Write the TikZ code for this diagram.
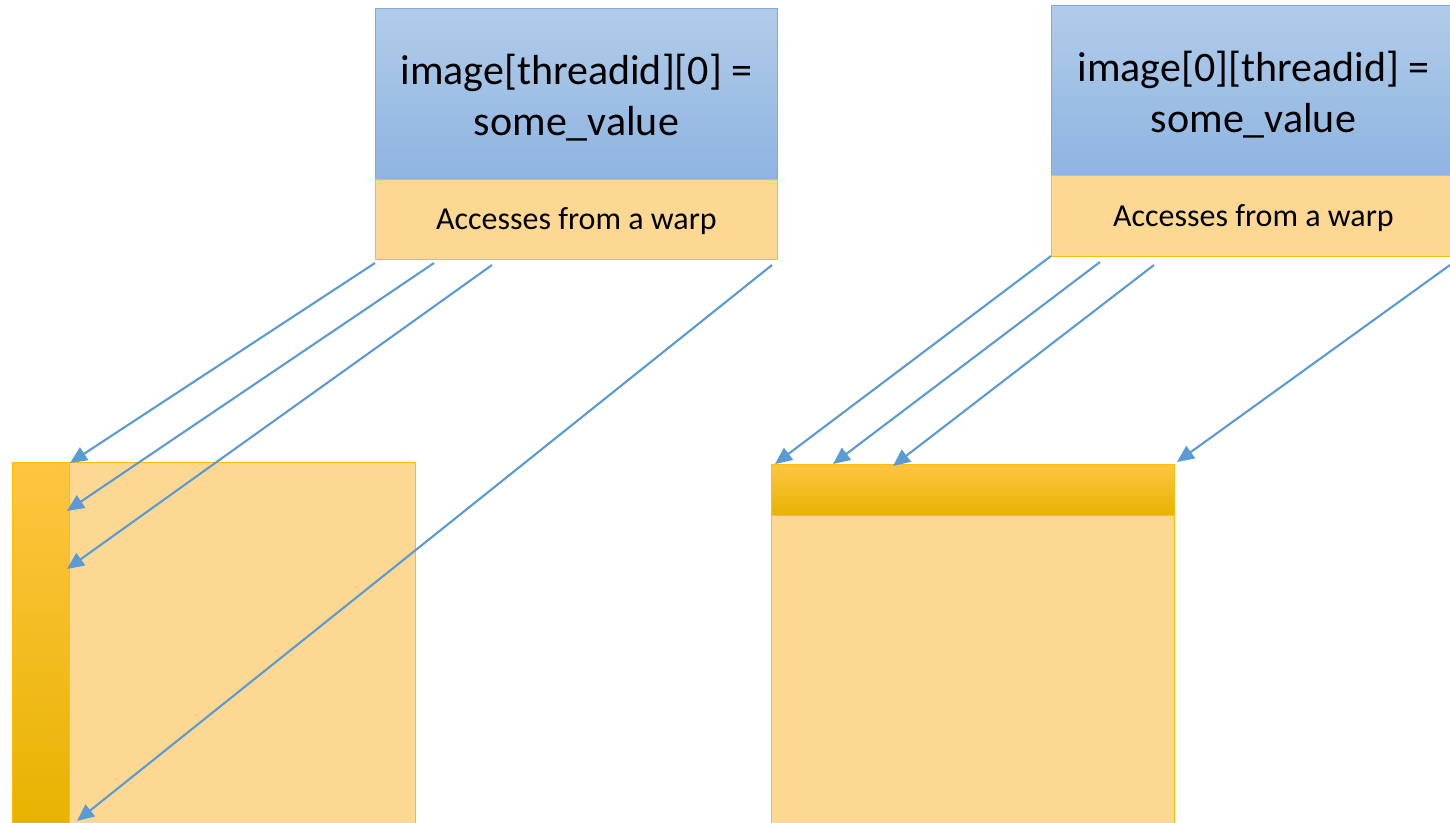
\documentclass[tikz,border=0pt]{standalone}
\usepackage{fontspec}
\setmainfont{Carlito}
\usetikzlibrary{arrows.meta}
\definecolor{arrowblue}{HTML}{5B9BD5}
\definecolor{bluetop}{HTML}{B1CCE9}
\definecolor{bluebot}{HTML}{8EB4E1}
\definecolor{boxedge}{HTML}{7FAADB}
\definecolor{lightorange}{HTML}{FDD892}
\definecolor{goldedge}{HTML}{FFC000}
\definecolor{goldtop}{HTML}{FFC542}
\definecolor{goldmid}{HTML}{FFC000}
\definecolor{goldbot}{HTML}{E8B300}
\tikzset{
  codebox/.style={draw=boxedge, line width=0.8pt, top color=bluetop, bottom color=bluebot,
    minimum width=402pt, minimum height=171pt, inner sep=0pt, align=center,
    font=\fontsize{42}{51}\selectfont, anchor=north west, text depth=0pt},
  codetext/.style={align=center, font=\fontsize{42}{51}\selectfont, inner sep=0pt},
  warpbox/.style={draw=goldedge, line width=0.8pt, fill=lightorange,
    minimum width=402pt, minimum height=80pt, inner sep=0pt, anchor=north west},
  warptext/.style={font=\fontsize{32}{38}\selectfont, inner sep=0pt},
  memory/.style={draw=goldedge, line width=0.8pt, fill=lightorange,
    inner sep=0pt, anchor=north west},
  hotstrip/.style={draw=goldedge, line width=0.8pt, top color=goldtop, middle color=goldmid,
    bottom color=goldbot, inner sep=0pt, anchor=north west},
  access/.style={draw=arrowblue, line width=2.1pt, -{Triangle[length=17pt,width=15pt]}},
}
\begin{document}
\begin{tikzpicture}[x=1pt, y=-1pt]
  \useasboundingbox (0,0) rectangle (1450,822);
  \clip (0,0) rectangle (1450,822);

  % column-wise access: image[threadid][0]
  \node[codebox] (codeL) at (375,8) {};
  \node[codetext] (codeLtext) at ([yshift=-4pt]codeL.center) {image[threadid][0] =\\some\_value};
  \node[warpbox] (warpL) at (375,179) {};
  \node[warptext] (warpLtext) at ([yshift=-2pt]warpL.center) {Accesses from a warp};
  \node[memory, minimum width=403pt, minimum height=362pt] (memL) at (12,462) {};
  \node[hotstrip, minimum width=57pt, minimum height=362pt] (colL) at (12,462) {};

  \coordinate (sL1) at (375,263);
  \coordinate (sL2) at (434,263);
  \coordinate (sL3) at (492,265);
  \coordinate (sL4) at (772,265);
  \coordinate (eL1) at (70,463);
  \coordinate (eL2) at (67,511);
  \coordinate (eL3) at (67,569);
  \coordinate (eL4) at (77,821);
  \draw[access] (sL1) -- (eL1);
  \draw[access] (sL2) -- (eL2);
  \draw[access] (sL3) -- (eL3);
  \draw[access] (sL4) -- (eL4);

  % row-wise access: image[0][threadid]
  \node[codebox, minimum width=404pt, minimum height=170pt] (codeR) at (1051,5) {};
  \node[codetext] (codeRtext) at ([yshift=-4pt]codeR.center) {image[0][threadid] =\\some\_value};
  \node[warpbox, minimum width=404pt, minimum height=81pt] (warpR) at (1051,175) {};
  \node[warptext] (warpRtext) at ([yshift=-2pt]warpR.center) {Accesses from a warp};
  \node[memory, minimum width=403pt, minimum height=362pt] (memR) at (771,464) {};
  \node[hotstrip, minimum width=403pt, minimum height=51pt] (rowR) at (771,464) {};

  \coordinate (sR1) at (1051,256);
  \coordinate (sR2) at (1100,262);
  \coordinate (sR3) at (1154,265);
  \coordinate (sR4) at (1450,265);
  \coordinate (eR1) at (775,464);
  \coordinate (eR2) at (833,464);
  \coordinate (eR3) at (893,466);
  \coordinate (eR4) at (1177,462);
  \draw[access] (sR1) -- (eR1);
  \draw[access] (sR2) -- (eR2);
  \draw[access] (sR3) -- (eR3);
  \draw[access] (sR4) -- (eR4);
\end{tikzpicture}
\end{document}
